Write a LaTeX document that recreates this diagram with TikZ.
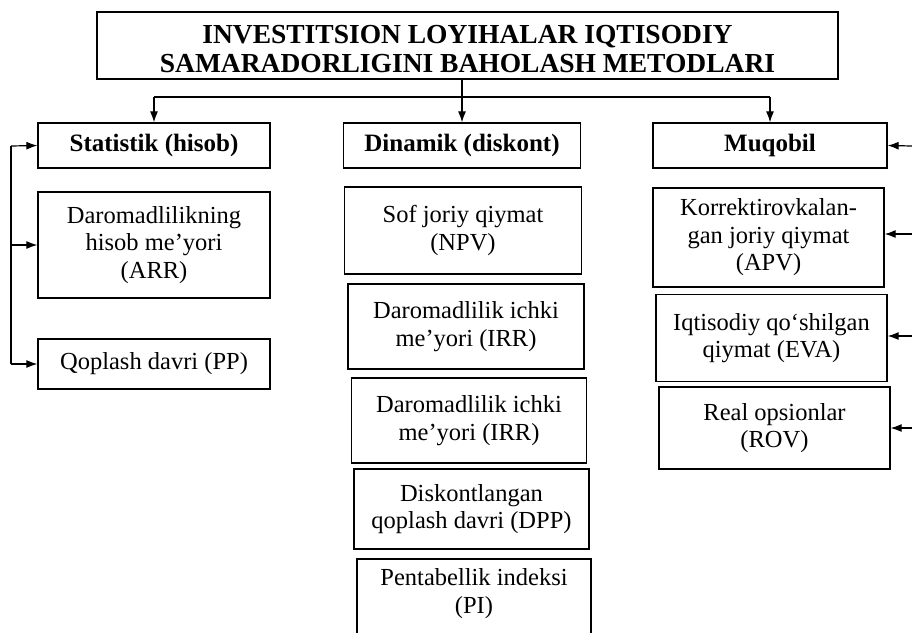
\documentclass[tikz,border=0pt]{standalone}
\usepackage{fontspec}
\setmainfont{Liberation Serif}
\usetikzlibrary{arrows,arrows.meta,shapes}

\begin{document}
\begin{tikzpicture}[x=1pt, y=-1pt, auto]
      % the page is as large as the scan: 912 x 632
      \useasboundingbox (0,0) rectangle (912,632);
      \tikzstyle{format} = [rectangle, draw, line width=1.3pt, text centered, align=center, inner sep=0pt]
      \tikzstyle{head} = [format, minimum height=45pt, font=\bfseries\fontsize{25}{28}\selectfont]
      \tikzstyle{method} = [format, font=\fontsize{24.5}{27.5}\selectfont]
      \tikzstyle{line} = [draw, line width=1.2pt, -{Latex[length=11pt,width=8pt]}]
        \node [format, line width=1.6pt, minimum width=741pt, minimum height=67pt,
               font=\bfseries\fontsize{27.5}{29}\selectfont] (title) at (467.5,45.5)
               {\rule{0pt}{25pt}INVESTITSION LOYIHALAR IQTISODIY\\SAMARADORLIGINI BAHOLASH METODLARI};
        % three groups of methods
        \node [head, minimum width=232pt] (stat) at (154,145.5) {Statistik (hisob)};
        \node [head, minimum width=237pt] (din) at (462,145.5) {Dinamik (diskont)};
        \node [head, minimum width=234pt] (muq) at (770,145.5) {Muqobil};
        \node [method, minimum width=232pt, minimum height=106pt] (arr) at (154,245) {Daromadlilikning\\hisob me’yori\\(ARR)};
        \node [method, minimum width=232pt, minimum height=50pt] (pp) at (154,364) {Qoplash davri (PP)};
        \node [method, minimum width=237pt, minimum height=87pt] (npv) at (463,230.5) {Sof joriy qiymat\\(NPV)};
        \node [method, minimum width=236pt, minimum height=85pt] (irr) at (466,326.5) {Daromadlilik ichki\\me’yori (IRR)};
        \node [method, minimum width=235pt, minimum height=85pt] (irrb) at (469,420.5) {Daromadlilik ichki\\me’yori (IRR)};
        \node [method, minimum width=235pt, minimum height=80pt] (dpp) at (471.5,509) {Diskontlangan\\qoplash davri (DPP)};
        \node [method, minimum width=234pt, minimum height=86pt, text depth=22pt] (pi) at (474,602) {Pentabellik indeksi\\(PI)};
        \node [method, minimum width=231pt, minimum height=99pt] (apv) at (768.5,237.5) {Korrektirovkalan-\\gan joriy qiymat\\(APV)};
        \node [method, minimum width=231pt, minimum height=87pt] (eva) at (771.5,338) {Iqtisodiy qo‘shilgan\\qiymat (EVA)};
        \node [method, minimum width=231pt, minimum height=82pt] (rov) at (774.5,428) {Real opsionlar\\(ROV)};
        % bus under the title
        \coordinate (bus) at (0,97);
        \coordinate (lft) at (11,146);
        \coordinate (rgt) at (912,146);
        \path [line] (title.south -| din.north) -- (din.north);
        \draw [line width=1.2pt] (bus -| stat.north) -- (bus -| muq.north);
        \path [line] (bus -| stat.north) -- (stat.north);
        \path [line] (bus -| muq.north) -- (muq.north);
        % bracket on the left
        \draw [line width=1.2pt] (lft) -- (lft |- pp.west);
        \path [line] (lft) -- (stat.west);
        \path [line] (lft |- arr.west) -- (arr.west);
        \path [line] (lft |- pp.west) -- (pp.west);
        % arrows from the right edge
        \path [line] (rgt) -- (muq.east);
        \path [line] (rgt |- 0,234) -- (apv.east |- 0,234);
        \path [line] (rgt |- 0,336) -- (eva.east |- 0,336);
        \path [line] (rgt |- 0,428) -- (rov.east |- 0,428);
      \end{tikzpicture}
\end{document}
